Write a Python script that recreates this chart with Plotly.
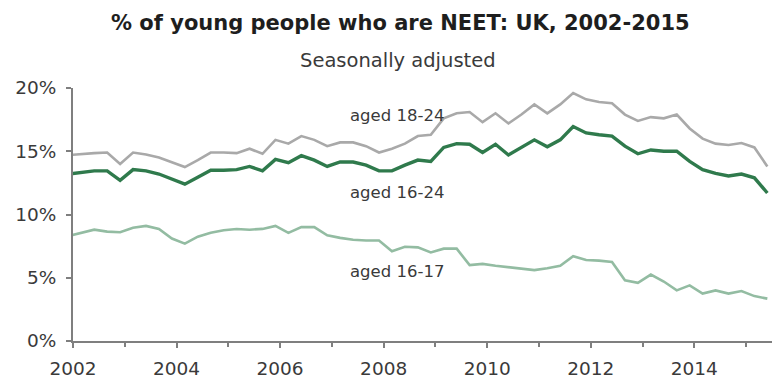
import plotly.graph_objects as go

# Quarterly observations, first period plotted at 2001.91, step 0.25 years
start_year = 2001.91
step = 0.25

aged_18_24 = [14.7, 14.8, 14.85, 14.9, 14.0, 14.9, 14.75, 14.5, 14.1, 13.75,
              14.3, 14.9, 14.9, 14.85, 15.2, 14.8, 15.9, 15.6, 16.2, 15.9,
              15.4, 15.7, 15.7, 15.4, 14.9, 15.2, 15.6, 16.2, 16.3, 17.6,
              18.0, 18.1, 17.3, 18.0, 17.2, 17.9, 18.7, 18.0, 18.7, 19.6,
              19.1, 18.9, 18.8, 17.9, 17.4, 17.7, 17.6, 17.9, 16.8, 16.0,
              15.6, 15.5, 15.65, 15.3, 13.8]
aged_16_24 = [13.2, 13.35, 13.45, 13.45, 12.7, 13.55, 13.45, 13.2, 12.8, 12.4,
              12.95, 13.5, 13.5, 13.55, 13.8, 13.45, 14.35, 14.1, 14.65, 14.3,
              13.8, 14.15, 14.15, 13.9, 13.45, 13.45, 13.9, 14.3, 14.2, 15.3,
              15.6, 15.55, 14.9, 15.55, 14.7, 15.3, 15.9, 15.35, 15.9, 16.95,
              16.45, 16.3, 16.2, 15.4, 14.8, 15.1, 15.0, 15.0, 14.2, 13.55,
              13.25, 13.05, 13.2, 12.9, 11.7]
aged_16_17 = [8.3, 8.55, 8.8, 8.65, 8.6, 8.95, 9.1, 8.85, 8.1, 7.7,
              8.25, 8.55, 8.75, 8.85, 8.8, 8.86, 9.1, 8.55, 9.0, 9.0,
              8.35, 8.15, 8.0, 7.95, 7.95, 7.1, 7.45, 7.4, 7.0, 7.3,
              7.3, 6.0, 6.1, 5.95, 5.85, 5.75, 5.6, 5.75, 5.95, 6.7,
              6.4, 6.35, 6.25, 4.8, 4.6, 5.25, 4.7, 4.0, 4.4, 3.75,
              4.0, 3.75, 3.95, 3.55, 3.35]

series_names = ["aged 18-24", "aged 16-24", "aged 16-17"]
series_values = [aged_18_24, aged_16_24, aged_16_17]
series_colors = ["#a9a9a9", "#2f7a4c", "#93bca2"]
series_widths = [2.6, 3.4, 2.6]
label_x = 2007.31
label_y = [17.8, 11.76, 5.5]

x_tick_years = [2002, 2004, 2006, 2008, 2010, 2012, 2014]
y_ticks = [0, 5, 10, 15, 20]
y_tick_labels = ["0%", "5%", "10%", "15%", "20%"]

title_text = "% of young people who are NEET: UK, 2002-2015"
subtitle_text = "Seasonally adjusted"

FONT = "DejaVu Sans"
TEXT = "#3a3a3a"
AXIS = "#7f7f7f"

x = [start_year + step * i for i in range(len(aged_18_24))]

fig = go.Figure()
for name, vals, col, w in zip(series_names, series_values, series_colors, series_widths):
    fig.add_trace(go.Scatter(x=x, y=vals, mode="lines", name=name,
                             line=dict(color=col, width=w), hoverinfo="skip"))

for name, ly in zip(series_names, label_y):
    fig.add_annotation(x=label_x, y=ly, xref="x", yref="y", text=name, showarrow=False,
                       xanchor="left", yanchor="middle",
                       font=dict(family=FONT, size=16.5, color=TEXT))

W, H = 772, 379
ML, MR, MT, MB = 73, 0, 88, 36
PW, PH = W - ML - MR, H - MT - MB

def paper_x(px):
    return (px - ML) / PW

def paper_y(py):
    return 1 + (MT - py) / PH

fig.add_annotation(x=paper_x(400), y=paper_y(22), xref="paper", yref="paper",
                   text="<b>" + title_text + "</b>",
                   showarrow=False, xanchor="center", yanchor="middle",
                   font=dict(family=FONT, size=21, color="#1e1e1e"))
fig.add_annotation(x=paper_x(398), y=paper_y(60), xref="paper", yref="paper",
                   text=subtitle_text,
                   showarrow=False, xanchor="center", yanchor="middle",
                   font=dict(family=FONT, size=19.5, color=TEXT))

fig.update_layout(
    width=W, height=H,
    margin=dict(l=ML, r=MR, t=MT, b=MB, pad=0),
    paper_bgcolor="white", plot_bgcolor="white",
    showlegend=False,
    font=dict(family=FONT, color=TEXT),
)
fig.update_xaxes(range=[2002, 2015.5], tickvals=x_tick_years,
                 ticktext=[str(v) for v in x_tick_years],
                 showgrid=False, zeroline=False, showline=True, linecolor=AXIS, linewidth=2,
                 ticks="outside", ticklen=5, tickwidth=2, tickcolor=AXIS,
                 minor=dict(dtick=1, tick0=2002, ticks="outside", ticklen=4, tickwidth=2, tickcolor=AXIS),
                 tickfont=dict(family=FONT, size=18.5, color=TEXT), ticklabelstandoff=5)
fig.update_yaxes(range=[0, 20], tickvals=y_ticks, ticktext=y_tick_labels,
                 showgrid=False, zeroline=False, showline=True, linecolor=AXIS, linewidth=2,
                 ticks="outside", ticklen=5, tickwidth=2, tickcolor=AXIS,
                 tickfont=dict(family=FONT, size=18.5, color=TEXT), ticklabelstandoff=6)

fig.write_html("out.html")
